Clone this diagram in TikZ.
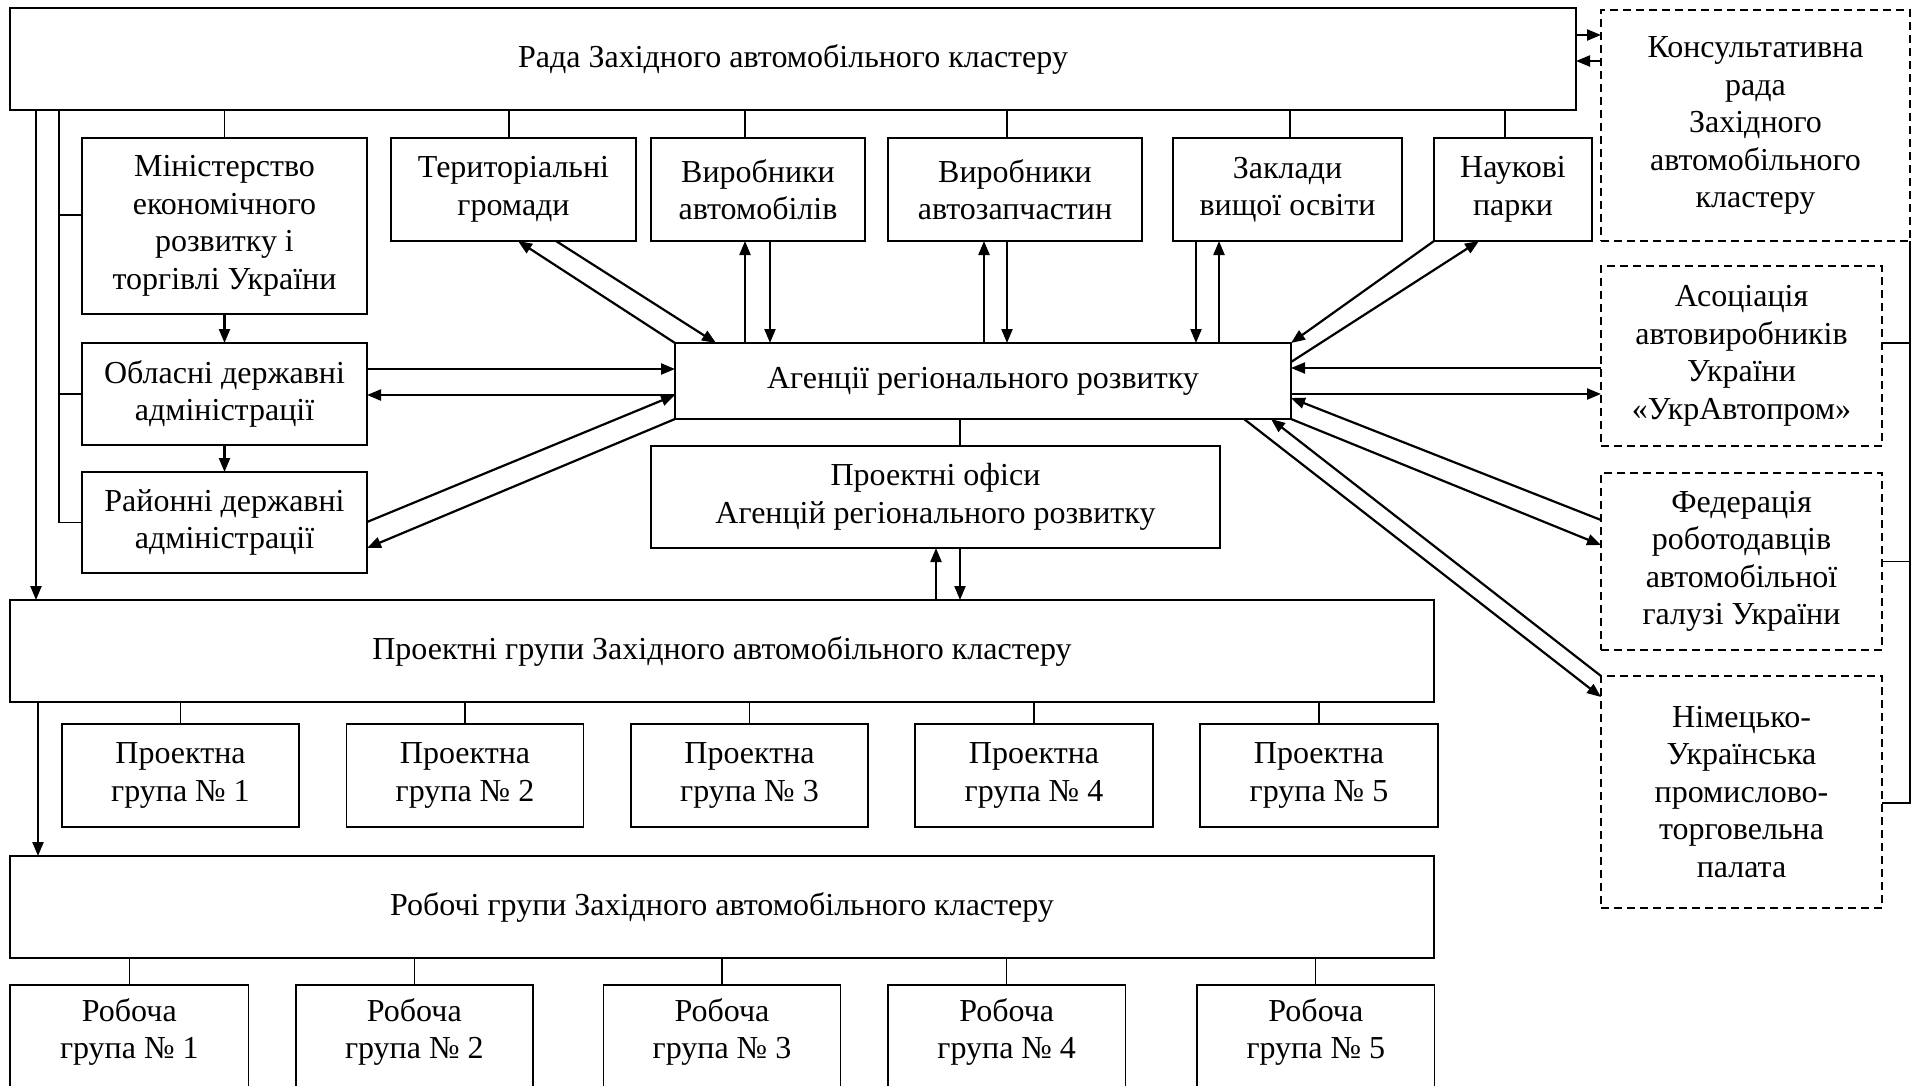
\documentclass[tikz,border=0pt]{standalone}
\usepackage{fontspec}
\setmainfont{Liberation Serif}
\usetikzlibrary{arrows.meta}
\newcommand\bigfs{\fontsize{32pt}{37.5pt}\selectfont}
\tikzset{
  box/.style={draw, line width=1.6pt, inner sep=0pt, outer sep=0pt, align=center, font=\bigfs},
  dbox/.style={box, dash pattern=on 8pt off 5pt},
  txt/.style={inner sep=0pt, align=center, font=\bigfs},
  ln/.style={line width=1.3pt},
  arr/.style={line width=2.2pt, -{Triangle[length=14pt,width=11pt]}},
}
\begin{document}
\begin{tikzpicture}[x=1pt,y=-1pt]
\useasboundingbox (0,0) rectangle (1916,1085);
% top
\node[box, minimum width=1566, minimum height=102] (rada) at (793,59) {Рада Західного автомобільного кластеру};
\node[dbox, minimum width=309, minimum height=231] (kons) at (1755.5,125.5) {Консультативна\\рада\\Західного\\автомобільного\\кластеру};
% row of boxes
\node[box, minimum width=285, minimum height=176] (min) at (224.5,226) {Міністерство\\економічного\\розвитку і\\торгівлі України};
\node[box, minimum width=245, minimum height=103] (ter) at (513.5,189.5) {Територіальні\\громади};
\node[box, minimum width=214, minimum height=103] (vavt) at (758,189.5) {Виробники\\автомобілів};
\node[box, minimum width=254, minimum height=103] (vzap) at (1015,189.5) {Виробники\\автозапчастин};
\node[box, minimum width=229, minimum height=103] (zakl) at (1287.5,189.5) {Заклади\\вищої освіти};
\node[box, minimum width=158, minimum height=103] (nauk) at (1513,189.5) {Наукові\\парки};
\node[box, minimum width=285, minimum height=102] (obl) at (224.5,394) {Обласні державні\\адміністрації};
\node[box, minimum width=285, minimum height=101] (rai) at (224.5,522.5) {Районні державні\\адміністрації};
\node[box, minimum width=616, minimum height=76] (agen) at (983,381) {Агенції регіонального розвитку};
\node[box, minimum width=569, minimum height=102] (ofis) at (935.5,497) {Проектні офіси\\Агенцій регіонального розвитку};
% right dashed
\node[dbox, minimum width=281, minimum height=180] (asoc) at (1741.5,356) {Асоціація\\автовиробників\\України\\«УкрАвтопром»};
\node[dbox, minimum width=281, minimum height=177] (fed) at (1741.5,561.5) {Федерація\\роботодавців\\автомобільної\\галузі України};
\node[dbox, minimum width=281, minimum height=232] (nim) at (1741.5,792) {Німецько-\\Українська\\промислово-\\торговельна\\палата};
% lower
\node[box, minimum width=1424, minimum height=102] (pg) at (722,651) {Проектні групи Західного автомобільного кластеру};
\node[box, minimum width=237, minimum height=103] (pg1) at (180.5,775.5) {Проектна\\група № 1};
\node[box, minimum width=237, minimum height=103] (pg2) at (465,775.5) {Проектна\\група № 2};
\node[box, minimum width=237, minimum height=103] (pg3) at (749.5,775.5) {Проектна\\група № 3};
\node[box, minimum width=238, minimum height=103] (pg4) at (1034,775.5) {Проектна\\група № 4};
\node[box, minimum width=238, minimum height=103] (pg5) at (1319,775.5) {Проектна\\група № 5};
\node[box, minimum width=1424, minimum height=102] (rg) at (722,907) {Робочі групи Західного автомобільного кластеру};
\node[box, minimum width=238.5, minimum height=110] (rg1) at (129.3,1040) {};
\node[box, minimum width=237, minimum height=110] (rg2) at (414.3,1040) {};
\node[box, minimum width=237, minimum height=110] (rg3) at (722,1040) {};
\node[box, minimum width=237.5, minimum height=110] (rg4) at (1006.7,1040) {};
\node[box, minimum width=237.5, minimum height=110] (rg5) at (1315.8,1040) {};
\node[txt] (rg1t) at (129.3,1032) {Робоча\\група № 1};
\node[txt] (rg2t) at (414.3,1032) {Робоча\\група № 2};
\node[txt] (rg3t) at (722,1032) {Робоча\\група № 3};
\node[txt] (rg4t) at (1006.7,1032) {Робоча\\група № 4};
\node[txt] (rg5t) at (1315.8,1032) {Робоча\\група № 5};

% rada connectors
\foreach \n/\x in {min/224.5, ter/509, vavt/745, vzap/1007, zakl/1290, nauk/1505}
  \draw[ln] (rada.south -| \x,0) -- (\n.north -| \x,0);
% rada <-> kons
\draw[arr] (rada.east |- 0,35) -- (kons.west |- 0,35);
\draw[arr] (kons.west |- 0,61) -- (rada.east |- 0,61);
% left lines
\draw[arr] (rada.south -| 36,0) -- (pg.north -| 36,0);
\draw[ln] (rada.south -| 59,0) |- (rai.west);
\draw[ln] (min.west -| 59,0) |- (min.west |- 0,215);
\draw[ln] (obl.west -| 59,0) -- (obl.west);
\draw[arr] (min.south) -- (obl.north);
\draw[arr] (obl.south) -- (rai.north);
% obl / rai <-> agen
\draw[arr] (obl.east |- 0,369) -- (agen.west |- 0,369);
\draw[arr] (agen.west |- 0,395) -- (obl.east |- 0,395);
\draw[arr] (rai.east |- 0,522) -- (agen.west |- 0,395);
\draw[arr] (agen.south west) -- (rai.east |- 0,548);
% top row <-> agen
\draw[arr] (agen.north west) -- (ter.south -| 518,0);
\draw[arr] (ter.south -| 556,0) -- (agen.north -| 716,0);
\draw[arr] (agen.north -| 745,0) -- (vavt.south -| 745,0);
\draw[arr] (vavt.south -| 770,0) -- (agen.north -| 770,0);
\draw[arr] (agen.north -| 984,0) -- (vzap.south -| 984,0);
\draw[arr] (vzap.south -| 1007,0) -- (agen.north -| 1007,0);
\draw[arr] (zakl.south -| 1196,0) -- (agen.north -| 1196,0);
\draw[arr] (agen.north -| 1219,0) -- (zakl.south -| 1219,0);
\draw[arr] (nauk.south west) -- (agen.north east);
\draw[arr] (agen.east |- 0,362) -- (nauk.south -| 1479,0);
% right side <-> agen
\draw[arr] (asoc.west |- 0,368) -- (agen.east |- 0,368);
\draw[arr] (agen.east |- 0,394) -- (asoc.west |- 0,394);
\draw[arr] (fed.west |- 0,520) -- (agen.east |- 0,398);
\draw[arr] (agen.south east) -- (fed.west |- 0,545);
\draw[arr] (nim.north west) -- (agen.south -| 1271,0);
\draw[arr] (agen.south -| 1244,0) -- (nim.west |- 0,697);
% bracket
\draw[ln, line width=1.6pt] (kons.south east) -- (kons.south east |- 0,803) -- (nim.east |- 0,803);
\draw[ln, line width=1.6pt] (asoc.east |- 0,343) -- (kons.south east |- 0,343);
\draw[ln, line width=1.6pt] (fed.east) -- (kons.south east |- fed.east);
% agen - ofis - pg
\draw[ln] (agen.south -| 960,0) -- (ofis.north -| 960,0);
\draw[arr] (pg.north -| 936,0) -- (ofis.south -| 936,0);
\draw[arr] (ofis.south -| 960,0) -- (pg.north -| 960,0);
% pg
\foreach \n in {pg1,pg2,pg3,pg4,pg5}
  \draw[ln] (pg.south -| \n.north) -- (\n.north);
\draw[arr] (pg.south -| 38,0) -- (rg.north -| 38,0);
\foreach \n in {rg1,rg2,rg3,rg4,rg5}
  \draw[ln] (rg.south -| \n.north) -- (\n.north);
\end{tikzpicture}
\end{document}
